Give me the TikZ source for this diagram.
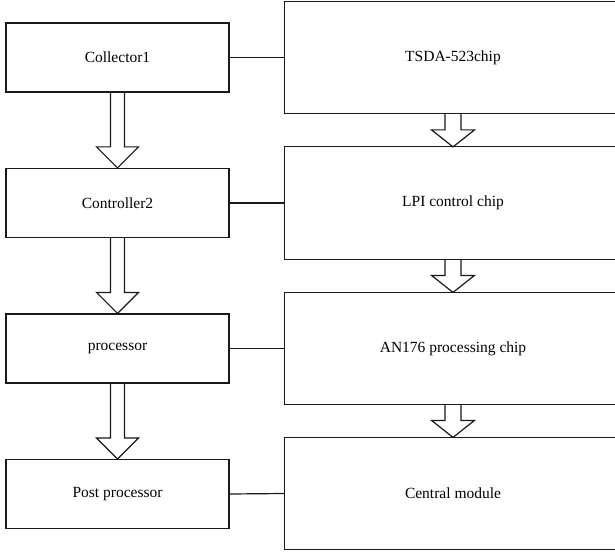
\documentclass[tikz,border=0pt]{standalone}
\usepackage{fontspec}
\setmainfont{Liberation Serif}
\usetikzlibrary{calc}

% Hollow block arrow from the bottom of one box to the top of the next:
% #1 from node, #2 to node, #3 shaft half width, #4 head half width, #5 head length
\newcommand{\blockarrow}[5]{%
  \draw[flowline] let \p1=(#1.south), \p2=(#2.north) in
    (\x1-#3,\y1) -- (\x1-#3,\y2+#5) -- (\x1-#4,\y2+#5) -- (\x2,\y2)
    -- (\x1+#4,\y2+#5) -- (\x1+#3,\y2+#5) -- (\x1+#3,\y1);}

\begin{document}
\begin{tikzpicture}[x=1pt,y=-1pt,
  flowline/.style={line width=1.2pt,draw=black!90,line join=miter},
  unitbox/.style={draw=black!90,line width=1.2pt,minimum width=223pt,minimum height=69pt,
    inner sep=0pt,font=\fontsize{15.5}{18}\selectfont,text=black},
  chipbox/.style={line width=1.2pt,minimum width=336pt,minimum height=111pt,
    inner sep=0pt,font=\fontsize{15.5}{18}\selectfont,text=black}]
\clip (0,0) rectangle (615,553);
\fill[white] (0,0) rectangle (615,553);

% processing units on the left
\node[unitbox] (u1) at (117.5,57.5) {Collector1};
\node[unitbox] (u2) at (117.5,203) {Controller2};
\node[unitbox] (u3) at (117.5,348.5) {processor};
\node[unitbox] (u4) at (117.5,494) {Post processor};

% chips on the right; their frames run on past the right margin
\node[chipbox] (c1) at (453,57.5) {TSDA-523chip};
\node[chipbox] (c2) at (453,203) {LPI control chip};
\node[chipbox] (c3) at (453,348.5) {AN176 processing chip};
\node[chipbox] (c4) at (453,493.5) {Central module};
\foreach \i in {1,...,4} {
  \draw[flowline] (c\i.south west) rectangle ($(c\i.north east)+(30,0)$);}

% links between each unit and its chip
\foreach \i in {1,...,4} {\draw[flowline] (u\i.east) -- (c\i.west);}

% data flow arrows
\blockarrow{u1}{u2}{7pt}{21pt}{21pt}
\blockarrow{u2}{u3}{7pt}{21pt}{21pt}
\blockarrow{u3}{u4}{7pt}{21pt}{21pt}
\blockarrow{c1}{c2}{8pt}{21.5pt}{17pt}
\blockarrow{c2}{c3}{8pt}{21.5pt}{17pt}
\blockarrow{c3}{c4}{8pt}{21.5pt}{17pt}
\end{tikzpicture}
\end{document}
